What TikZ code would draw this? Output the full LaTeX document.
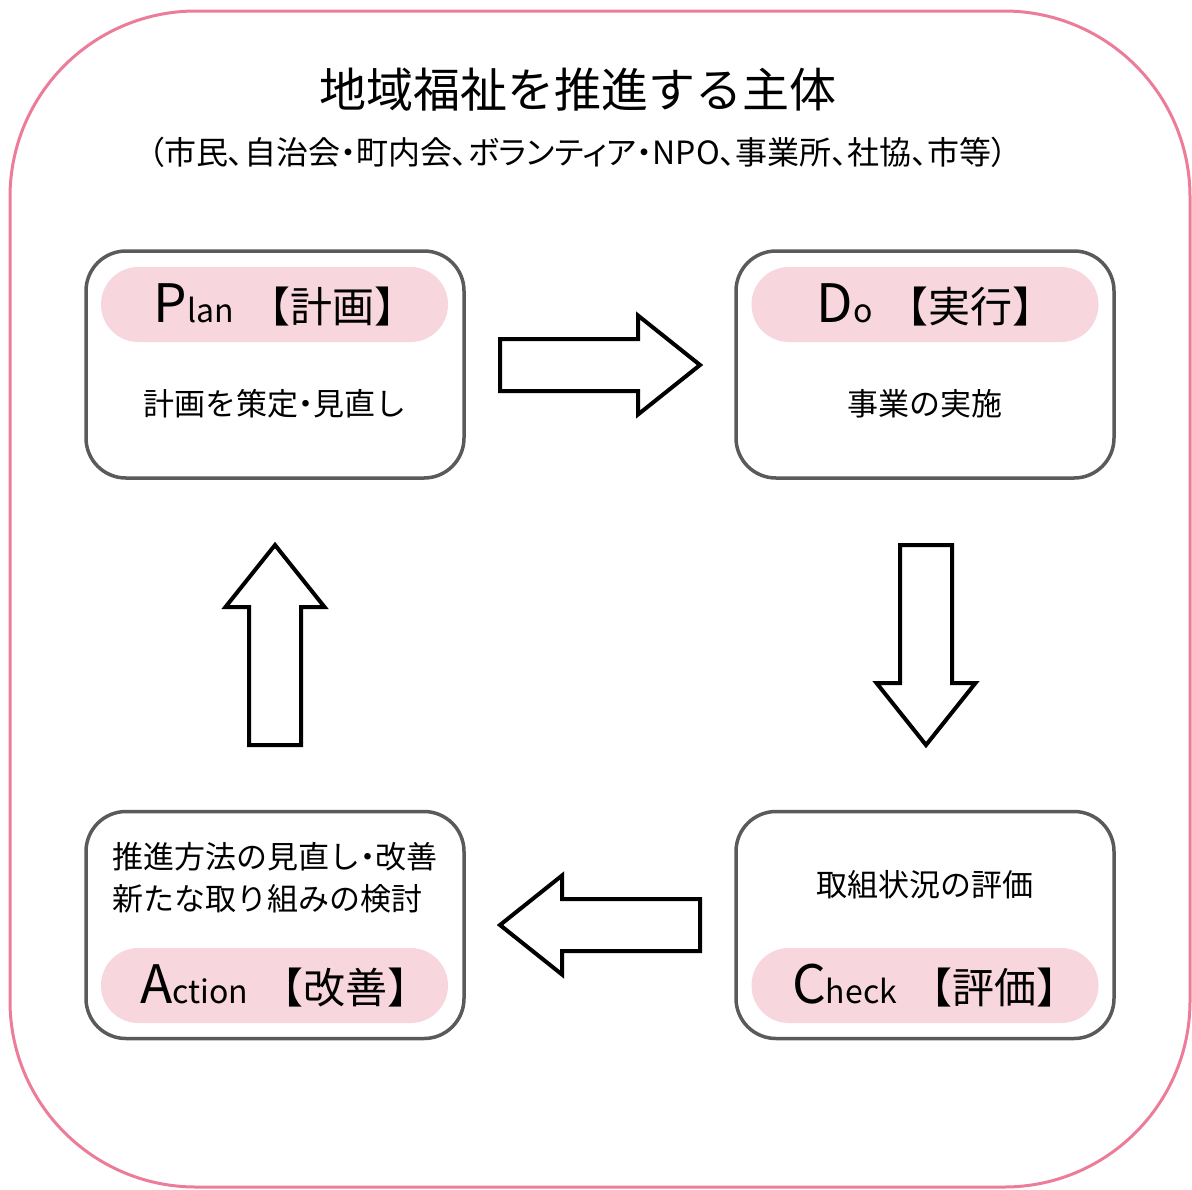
\documentclass[tikz,border=0pt]{standalone}
\usepackage{fontspec}
\setmainfont{Noto Sans CJK JP}
\newfontfamily\paltfont{Noto Sans CJK JP}[RawFeature=+palt]
\definecolor{outerpink}{HTML}{EC7C98}
\definecolor{pillpink}{HTML}{F8D6DE}
\definecolor{boxgray}{HTML}{5A5A5A}
\newcommand{\bigL}[1]{{\fontsize{26.5pt}{30pt}\selectfont #1}}
\newcommand{\smallL}[1]{{\fontsize{16pt}{20pt}\selectfont #1}}
\newcommand{\brk}[1]{{\fontsize{21pt}{25pt}\selectfont #1\kern-0.5em}}
\newcommand{\pilltext}[3]{\bigL{#1}\smallL{#2}\hspace{7pt}\brk{#3}}
\begin{document}
\begin{tikzpicture}[x=0.5pt,y=-0.5pt,
  outer/.style={draw=outerpink,line width=1.5pt,rounded corners=93pt},
  stagebox/.style={draw=boxgray,line width=1.75pt,fill=white,rounded corners=20pt,
    minimum width=189pt,minimum height=113.5pt,inner sep=0pt},
  pill/.style={fill=pillpink,rounded corners=18.7pt,minimum width=173.5pt,minimum height=37.5pt,inner sep=0pt},
  bodytext/.style={font=\fontsize{15.5pt}{21pt}\selectfont,inner sep=0pt},
  arrowline/.style={draw=black,line width=2pt,fill=white,line join=miter},
  blockarrow/.pic={\draw[arrowline] (0,-26) -- (138,-26) -- (138,-49.5) -- (200,0) -- (138,49.5) -- (138,26) -- (0,26) -- cycle;}
]
\useasboundingbox (0,0) rectangle (1192,1189);
\draw[outer] (10,11) rectangle (1190,1187);

\node[inner sep=0pt,font=\fontsize{23.5pt}{28pt}\selectfont] (title) at (578,90) {地域福祉を推進する主体};
\node[inner sep=0pt,font=\fontsize{16pt}{20pt}\selectfont\paltfont] (subtitle) at (578,152) {（市民、自治会・町内会、ボランティア・NPO、事業所、社協、市等）};

% boxes
\node[stagebox] (plan) at (275,364.5) {};
\node[stagebox] (do) at (925,364.5) {};
\node[stagebox] (check) at (925,925) {};
\node[stagebox] (action) at (275,925) {};

% pills
\node[pill] (planpill) at (274.5,304.5) {\pilltext{P}{lan}{【計画】}};
\node[pill] (dopill) at (925,304.5) {\pilltext{D}{o}{【実行】}};
\node[pill] (checkpill) at (925,985.5) {\pilltext{C}{heck}{【評価】}};
\node[pill] (actionpill) at (274.5,985.5) {\pilltext{A}{ction}{【改善】}};

% body texts
\node[bodytext] (plantext) at (275,404) {計画を策定{\paltfont ・}見直し};
\node[bodytext] (dotext) at (925,404) {事業の実施};
\node[bodytext] (checktext) at (925,885) {取組状況の評価};
\node[bodytext,align=left,anchor=west] (actiontext) at (112,878) {推進方法の見直し{\paltfont ・}改善\\新たな取り組みの検討};

% block arrows
\pic at (500,365) {blockarrow};
\pic[rotate=-90] at (926,545) {blockarrow};
\pic[rotate=180] at (700,925) {blockarrow};
\pic[rotate=90] at (275,745) {blockarrow};
\end{tikzpicture}
\end{document}
